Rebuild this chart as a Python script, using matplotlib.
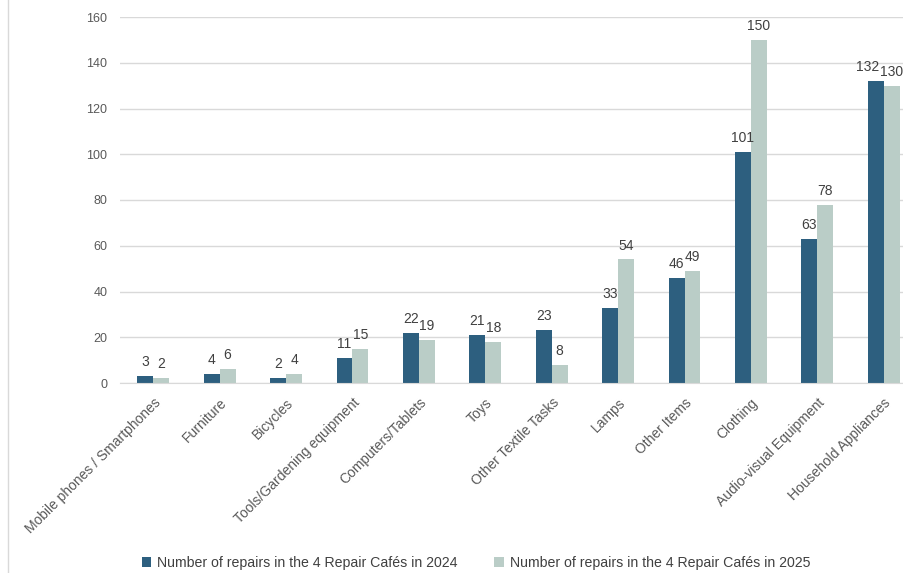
import matplotlib.pyplot as plt
import numpy as np
from matplotlib.lines import Line2D

categories = [
    "Mobile phones / Smartphones", "Furniture", "Bicycles",
    "Tools/Gardening equipment", "Computers/Tablets", "Toys",
    "Other Textile Tasks", "Lamps", "Other Items", "Clothing",
    "Audio-visual Equipment", "Household Appliances",
]
repairs_2024 = [3, 4, 2, 11, 22, 21, 23, 33, 46, 101, 63, 132]
repairs_2025 = [2, 6, 4, 15, 19, 18, 8, 54, 49, 150, 78, 130]
series_labels = [
    "Number of repairs in the 4 Repair Cafés in 2024",
    "Number of repairs in the 4 Repair Cafés in 2025",
]
yticks = [0, 20, 40, 60, 80, 100, 120, 140, 160]

plt.rcParams['font.family'] = ['Liberation Sans', 'DejaVu Sans']

W, H = 904, 573
fig = plt.figure(figsize=(W / 100, H / 100), dpi=100)
ax = fig.add_axes([120 / W, 1 - 383 / H, 797 / W, 366 / H])

dark = "#2d5f7f"
light = "#bacdc7"
bw = 0.24
x = np.arange(len(categories))
b1 = ax.bar(x - bw / 2, repairs_2024, bw, color=dark, label=series_labels[0])
b2 = ax.bar(x + bw / 2, repairs_2025, bw, color=light, label=series_labels[1])

for i, (v1, v2) in enumerate(zip(repairs_2024, repairs_2025)):
    # push apart three-digit labels of near-equal bars
    dx = -6 if (v1 >= 100 and abs(v1 - v2) < 6) else 0
    for rect, v, shift in ((b1[i], v1, dx), (b2[i], v2, 0)):
        ax.annotate(str(v), (rect.get_x() + rect.get_width() / 2, v),
                    xytext=(shift, 5), textcoords="offset points",
                    ha="center", va="bottom", fontsize=10, color="#404040")

ax.set_xlim(-0.5, len(categories) - 0.5)
ax.set_ylim(0, 160)
ax.set_yticks(yticks)
ax.tick_params(axis="y", length=0, pad=9, labelsize=9, labelcolor="#595959")
ax.tick_params(axis="x", length=0, pad=9, labelsize=10, labelcolor="#595959")
ax.set_xticks(x)
ax.set_xticklabels(categories, rotation=45, ha="right", rotation_mode="anchor")
ax.grid(axis="y", color="#d9d9d9", linewidth=1)
ax.set_axisbelow(True)
for s in ("top", "right", "left"):
    ax.spines[s].set_visible(False)
ax.spines["bottom"].set_color("#d9d9d9")

fig.add_artist(Line2D([8 / W, 8 / W], [0, 1], color="#d9d9d9", linewidth=1))

fig.legend(handles=[b1, b2], loc="center", bbox_to_anchor=(476 / W, 1 - 563 / H),
           ncol=2, frameon=False, fontsize=10.2, handlelength=0.7, handleheight=0.7,
           handletextpad=0.4, columnspacing=2.6, labelcolor="#404040")

fig.savefig("out.png", dpi=100)
